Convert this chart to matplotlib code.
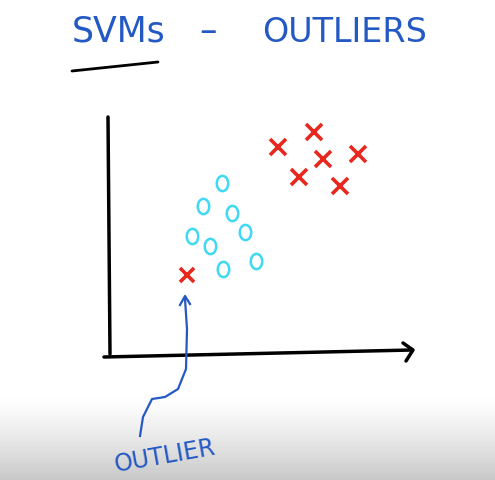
import numpy as np
import matplotlib
matplotlib.use("Agg")
import matplotlib.pyplot as plt
from matplotlib.path import Path
from matplotlib.transforms import Affine2D

# ------------------------------------------------------------------
# DATA (sketch pixel coordinates, y grows downward)
# ------------------------------------------------------------------
red_x = [278, 314, 323, 358, 299, 340]
red_y = [148, 133, 160, 155, 178, 187]
outlier_x = [187]
outlier_y = [276]
blue_x = [222, 203, 232, 192, 210, 245, 223, 256]
blue_y = [184, 207, 214, 237, 247, 233, 270, 262]

TITLE_LEFT = "SVMs"
TITLE_DASH = "–"
TITLE_RIGHT = "OUTLIERS"
LABEL = "OUTLIER"

BLUE = "#2459c4"
RED = "#e8281e"
CYAN = "#3fd9f2"

W, H = 495, 481

fig = plt.figure(figsize=(W / 100, H / 100), dpi=100)
ax = fig.add_axes([0, 0, 1, 1])
ax.set_xlim(0, W)
ax.set_ylim(H, 0)
ax.axis("off")

# grey fade at the bottom of the video frame
grad = np.ones((H, 1))
ramp = np.clip((np.arange(H) - 395) / (H - 395), 0, 1)
grad[:, 0] = 1 - 0.22 * ramp ** 1.3
ax.imshow(grad, cmap="gray", vmin=0, vmax=1, extent=[0, W, H, 0], aspect="auto", zorder=0)

# title + underline
ax.text(72, 32, TITLE_LEFT, color=BLUE, fontsize=25, va="center", ha="left", zorder=3)
ax.text(208, 32, TITLE_DASH, color=BLUE, fontsize=25, va="center", ha="center", zorder=3)
ax.text(262, 32, TITLE_RIGHT, color=BLUE, fontsize=24, va="center", ha="left", zorder=3)
ax.plot([72, 158], [72, 63], color="black", lw=2, solid_capstyle="round", zorder=3)

# axes
ax.plot([108, 110], [118, 355], color="black", lw=2.5, solid_capstyle="round", zorder=3)
ax.plot([104, 412], [358, 351], color="black", lw=2.5, solid_capstyle="round", zorder=3)
ax.plot([403, 413, 406], [344, 351, 362], color="black", lw=2.5,
        solid_capstyle="round", solid_joinstyle="round", zorder=3)

# points (circles drawn slightly taller than wide, like the hand-drawn ones)
oval = Path.unit_circle().transformed(Affine2D().scale(0.75, 1.0))
ax.plot(red_x, red_y, "x", color=RED, ms=11, mew=2.6, zorder=4)
ax.plot(outlier_x, outlier_y, "x", color=RED, ms=10, mew=2.6, zorder=4)
ax.plot(blue_x, blue_y, linestyle="none", marker=oval, color=CYAN, ms=11, mew=1.8,
        fillstyle="none", zorder=4)

# pointer from label to outlier
ax.plot([140, 143, 152, 165, 178, 186, 187, 185],
        [437, 418, 400, 398, 390, 370, 330, 300],
        color=BLUE, lw=1.6, zorder=3)
ax.plot([180, 185, 190], [306, 297, 305], color=BLUE, lw=1.6, zorder=3)

ax.text(112, 456, LABEL, color=BLUE, fontsize=17, va="center", ha="left",
        rotation=10, zorder=3)

fig.savefig("out.png", dpi=100)
